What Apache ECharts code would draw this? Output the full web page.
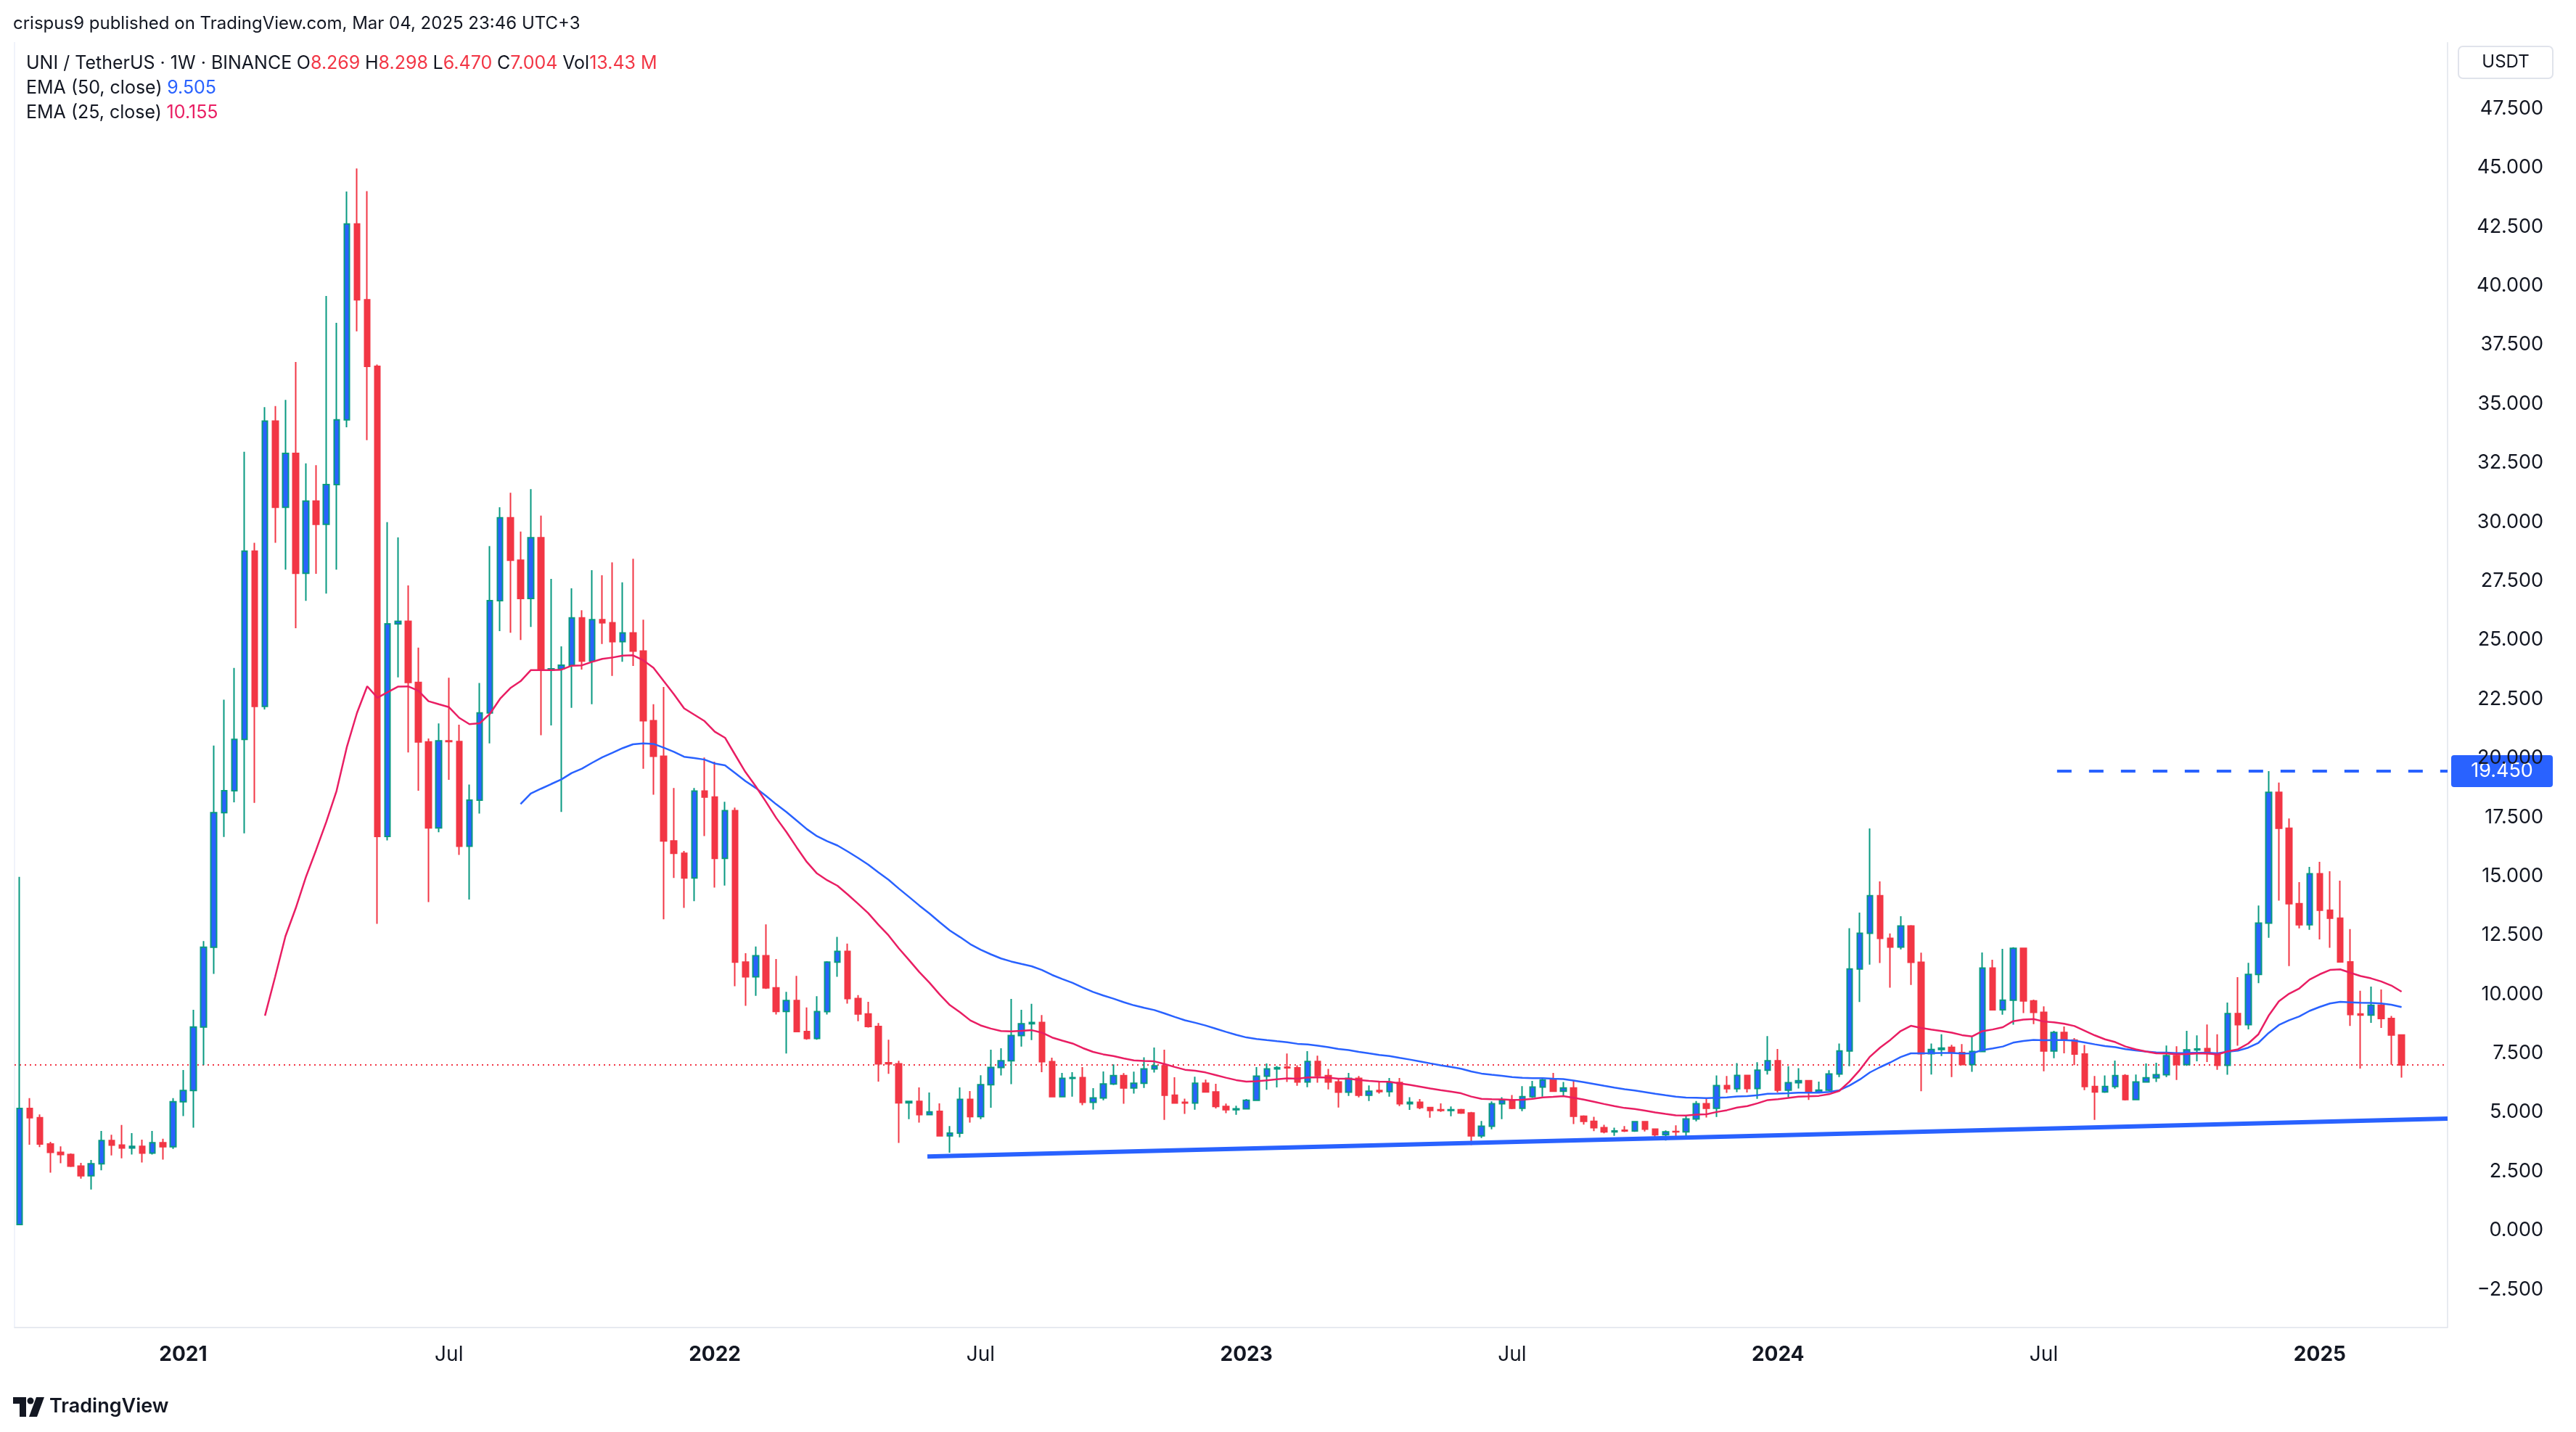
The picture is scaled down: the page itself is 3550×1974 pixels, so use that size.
<!DOCTYPE html>
<html>
<head>
<meta charset="utf-8">
<title>UNI / TetherUS 1W</title>
<script src="https://cdn.jsdelivr.net/npm/echarts@6/dist/echarts.min.js"></script>
<style>
  html, body { margin: 0; padding: 0; background: #fff; }
  #chart { width: 3550px; height: 1974px; }
</style>
</head>
<body>
<div id="chart"></div>
<script>
// weekly candles, first bar = week of 2020-09-14
const startDate = '2020-09-14';
const futureWeeks = 4;

const open = [
  0.25,5.16,4.77,3.66,3.30,3.21,2.72,2.31,2.82,3.80,
  3.61,3.49,3.56,3.27,3.71,3.54,5.45,5.92,8.61,11.99,
  17.69,18.62,20.79,28.76,22.19,34.27,30.62,32.90,27.83,30.88,
  29.90,31.58,34.32,42.62,39.41,36.59,16.68,25.68,25.79,23.20,
  20.68,17.04,20.73,20.70,16.27,18.22,21.91,26.67,30.18,28.38,
  26.76,29.33,23.73,23.78,23.93,25.94,24.11,25.86,25.73,24.93,
  25.30,24.53,21.58,20.08,16.49,15.97,14.92,18.60,18.35,15.75,
  17.77,11.36,10.74,11.63,10.27,9.27,9.73,8.42,8.13,9.26,
  11.36,11.81,9.82,9.16,8.63,7.10,7.05,5.40,5.46,4.90,
  5.04,4.00,4.12,5.55,4.82,6.17,6.90,7.18,8.25,8.75,
  8.80,7.14,5.66,6.44,6.47,5.42,5.61,6.20,6.55,6.03,
  6.23,6.84,6.97,5.72,5.42,5.39,6.23,5.86,5.25,5.11,
  5.15,5.51,6.53,6.84,6.91,6.88,6.28,7.15,6.55,6.28,
  5.85,6.44,5.72,5.92,5.88,6.26,5.36,5.42,5.20,5.11,
  5.08,5.11,4.97,4.00,4.41,5.36,5.51,5.17,5.66,6.07,
  6.37,5.89,6.03,4.83,4.62,4.35,4.17,4.24,4.21,4.60,
  4.29,4.05,4.19,4.17,4.72,5.36,5.17,6.13,6.00,6.56,
  6.01,6.78,7.18,5.94,6.25,6.34,5.84,5.94,6.62,7.60,
  11.07,12.58,14.17,12.37,12.00,12.89,11.35,7.48,7.66,7.75,
  7.53,7.02,7.57,11.11,9.34,9.75,11.94,9.72,9.23,7.60,
  8.38,8.06,7.47,6.09,5.86,6.09,6.55,5.54,6.28,6.46,
  6.59,7.40,7.02,7.64,7.70,7.49,6.99,9.18,8.71,10.84,
  13.01,18.55,17.03,13.83,12.94,15.10,13.56,13.22,11.37,9.16,
  9.12,9.53,8.97,8.269
];
const close = [
  5.16,4.77,3.66,3.30,3.21,2.72,2.31,2.82,3.80,3.61,
  3.49,3.56,3.27,3.71,3.54,5.45,5.92,8.61,11.99,17.69,
  18.62,20.79,28.76,22.19,34.27,30.62,32.90,27.83,30.88,29.90,
  31.58,34.32,42.62,39.41,36.59,16.68,25.68,25.79,23.20,20.68,
  17.04,20.73,20.70,16.27,18.22,21.91,26.67,30.18,28.38,26.76,
  29.33,23.73,23.78,23.93,25.94,24.11,25.86,25.73,24.93,25.30,
  24.53,21.58,20.08,16.49,15.97,14.92,18.60,18.35,15.75,17.77,
  11.36,10.74,11.63,10.27,9.27,9.73,8.42,8.13,9.26,11.36,
  11.81,9.82,9.16,8.63,7.05,7.05,5.40,5.46,4.90,5.02,
  4.00,4.12,5.55,4.82,6.17,6.90,7.18,8.25,8.75,8.80,
  7.14,5.66,6.44,6.47,5.42,5.61,6.20,6.55,6.03,6.23,
  6.84,6.97,5.72,5.39,5.39,6.23,5.86,5.25,5.11,5.15,
  5.51,6.53,6.84,6.89,6.88,6.28,7.15,6.55,6.28,5.85,
  6.44,5.72,5.89,5.88,6.26,5.36,5.42,5.20,5.08,5.08,
  5.11,4.97,4.00,4.41,5.36,5.51,5.17,5.66,6.07,6.37,
  5.89,6.03,4.83,4.62,4.35,4.17,4.21,4.21,4.60,4.29,
  4.05,4.17,4.17,4.72,5.36,5.17,6.13,6.00,6.56,6.01,
  6.78,7.18,5.94,6.25,6.34,5.84,5.94,6.62,7.60,11.07,
  12.58,14.17,12.37,12.00,12.89,11.35,7.48,7.66,7.72,7.53,
  7.02,7.57,11.11,9.34,9.75,11.94,9.72,9.23,7.60,8.38,
  8.06,7.47,6.09,5.86,6.09,6.55,5.54,6.28,6.46,6.59,
  7.40,7.02,7.64,7.68,7.49,6.99,9.18,8.71,10.84,13.01,
  18.55,17.03,13.83,12.94,15.10,13.56,13.22,11.37,9.14,9.12,
  9.53,8.97,8.27,7.004
];
const high = [
  14.97,5.60,4.91,3.75,3.56,3.26,2.86,2.98,4.21,4.05,
  4.46,4.12,3.84,4.21,3.88,5.60,6.79,9.34,12.25,20.53,
  22.47,23.82,32.97,29.12,34.86,34.91,35.17,36.77,32.48,32.40,
  39.57,38.43,43.99,44.97,44.01,36.67,29.99,29.35,27.31,24.68,
  20.83,21.47,23.40,21.41,18.88,23.18,28.98,30.62,31.24,29.59,
  31.39,30.27,27.59,24.73,27.19,26.26,27.96,27.74,28.29,27.44,
  28.44,25.86,22.28,23.01,18.73,16.07,18.73,20.02,19.85,18.15,
  17.90,11.74,12.02,12.96,11.49,10.10,10.78,9.44,9.92,11.40,
  12.43,12.14,9.96,9.68,8.78,8.07,7.18,5.49,6.05,5.84,
  5.38,4.42,6.05,5.90,6.57,7.65,7.71,9.80,9.34,9.59,
  9.12,7.31,6.67,6.70,6.91,6.02,6.73,7.03,6.66,6.72,
  7.33,7.74,7.65,6.48,5.58,6.51,6.38,6.21,5.37,5.28,
  5.56,6.91,7.07,6.96,7.49,6.99,7.59,7.40,6.84,6.45,
  6.67,6.54,6.14,6.33,6.45,6.45,5.64,5.56,5.22,5.38,
  5.25,5.15,5.02,4.63,5.46,5.64,5.73,6.11,6.33,6.43,
  6.67,6.28,6.33,4.87,4.81,4.47,4.35,4.42,4.62,4.62,
  4.32,4.23,4.45,4.86,5.48,5.60,6.56,6.54,7.08,6.58,
  7.12,8.23,7.68,6.95,6.87,6.37,6.30,6.78,7.91,12.80,
  13.46,17.02,14.78,12.57,13.30,12.93,11.76,7.91,8.30,7.86,
  7.89,8.17,11.77,11.46,11.92,11.99,11.96,9.77,9.49,8.45,
  8.63,8.14,7.85,6.54,6.56,7.19,6.61,6.60,7.07,7.10,
  7.83,7.80,8.45,8.26,8.72,8.30,9.65,10.72,11.33,13.76,
  19.45,18.96,17.44,14.75,15.39,15.61,15.21,14.81,12.76,10.15,
  10.32,10.20,9.08,8.298
];
const low = [
  0.25,3.63,3.53,2.44,2.84,2.68,2.19,1.73,2.54,3.17,
  3.05,3.21,2.87,3.21,3.00,3.45,4.84,4.35,7.00,10.86,
  16.66,18.13,16.81,18.10,22.06,29.12,27.98,25.50,26.66,27.80,
  26.97,27.98,34.01,38.07,33.46,12.98,16.51,23.42,20.24,18.62,
  13.90,16.86,19.08,15.90,14.01,17.65,20.62,25.38,25.31,25.00,
  25.55,20.97,21.38,17.72,22.13,23.75,22.28,24.83,23.48,24.08,
  23.90,19.55,18.45,13.17,14.92,13.66,13.94,16.70,14.52,14.60,
  10.34,9.51,9.93,10.22,9.14,7.49,8.40,8.07,8.07,9.14,
  10.74,9.60,8.86,8.59,6.30,6.63,3.70,4.71,4.56,4.87,
  3.98,3.29,3.94,4.56,4.71,5.19,6.56,6.19,7.78,8.06,
  6.70,5.64,5.63,5.66,5.30,5.12,5.51,6.15,5.36,5.79,
  6.03,6.68,4.68,5.36,4.93,5.11,5.85,5.16,4.96,4.89,
  5.13,5.51,5.95,6.05,6.28,6.12,6.06,6.25,5.97,5.20,
  5.69,5.63,5.48,5.79,5.66,5.26,5.10,5.13,4.77,5.02,
  4.83,4.93,3.61,3.91,4.28,4.71,5.13,5.05,5.61,5.66,
  5.87,5.71,4.50,4.48,4.20,4.11,4.00,4.16,4.17,4.19,
  3.96,3.80,3.90,3.96,4.62,4.78,4.80,5.82,5.85,5.84,
  5.57,6.60,5.84,5.63,6.01,5.52,5.82,5.90,6.49,6.95,
  9.67,11.25,11.32,10.28,11.90,10.39,5.89,6.60,7.38,6.49,
  7.00,6.71,7.55,9.31,9.13,8.71,9.20,8.73,6.74,7.29,
  7.50,7.00,5.94,4.68,5.82,6.00,5.50,5.52,6.26,6.28,
  6.49,6.37,6.97,7.16,7.13,6.80,6.59,7.82,8.51,10.47,
  12.39,13.96,11.19,12.79,12.73,12.32,11.97,11.35,8.66,6.85,
  8.79,8.57,7.01,6.470
];

// time scale labels
const tickDates  = ['2021-01-04','2021-07-05','2022-01-03','2022-07-04','2023-01-02','2023-07-03','2024-01-01','2024-07-01','2025-01-06'];
const tickLabels = ['2021','Jul','2022','Jul','2023','Jul','2024','Jul','2025'];
const priceTicks = [-2.5,0,2.5,5,7.5,10,12.5,15,17.5,20,22.5,25,27.5,30,32.5,35,37.5,40,42.5,45,47.5];

// drawings (bar index, price)
const supportLine = [[88.8, 3.13], [237.5, 4.73]];
const resistance = { from: 199.3, price: 19.45 };
const lastPrice = 7.004;
const emaLegend = { ema50: '9.505', ema25: '10.155' };

const UP_FILL = '#2962FF', UP_EDGE = '#089981', DOWN = '#F23645';
const EMA25_COLOR = '#E91E63', EMA50_COLOR = '#2962FF';
const TEXT = '#131722';
const FONT = 'Inter, "Noto Sans", sans-serif';

// category dates
const dates = [];
const d0 = new Date(startDate + 'T00:00:00Z');
for (let i = 0; i < open.length + futureWeeks; i++) {
  const d = new Date(d0.getTime() + i * 7 * 86400000);
  dates.push(d.toISOString().slice(0, 10));
}
const tickMap = {};
tickDates.forEach((d, i) => { tickMap[d] = tickLabels[i]; });

const candles = open.map((o, i) => [o, close[i], low[i], high[i]]);

function ema(src, n) {
  const out = [];
  const k = 2 / (n + 1);
  let prev = null;
  for (let i = 0; i < src.length; i++) {
    if (i < n - 1) { out.push('-'); continue; }
    if (prev === null) {
      let s = 0;
      for (let j = i - n + 1; j <= i; j++) s += src[j];
      prev = s / n;
    } else {
      prev = k * src[i] + (1 - k) * prev;
    }
    out.push(+prev.toFixed(4));
  }
  return out;
}

const nCat = dates.length;
const chart = echarts.init(document.getElementById('chart'));

const option = {
  animation: false,
  backgroundColor: '#ffffff',
  textStyle: { fontFamily: FONT },
  grid: { left: 20, right: 177, top: 58.7, bottom: 144.5 },
  xAxis: [
    {
      type: 'category',
      data: dates,
      boundaryGap: true,
      axisLine: { show: true, onZero: false, lineStyle: { color: '#E0E3EB', width: 1.5 } },
      axisTick: { show: false },
      splitLine: { show: false },
      axisLabel: {
        margin: 24,
        fontSize: 28,
        color: TEXT,
        fontFamily: FONT,
        interval: (idx, val) => tickMap[val] !== undefined,
        formatter: (val) => {
          const t = tickMap[val];
          if (!t) return '';
          return /^\d{4}$/.test(t) ? '{y|' + t + '}' : '{m|' + t + '}';
        },
        rich: {
          y: { fontSize: 28, fontWeight: 700, color: TEXT, fontFamily: FONT },
          m: { fontSize: 28, fontWeight: 400, color: TEXT, fontFamily: FONT }
        }
      }
    },
    {
      type: 'value',
      min: -0.5,
      max: nCat - 0.5,
      show: false
    }
  ],
  yAxis: {
    type: 'value',
    position: 'right',
    min: -4.1,
    max: 50.3,
    scale: true,
    axisLine: { show: true, onZero: false, lineStyle: { color: '#E0E3EB', width: 1.5 } },
    axisTick: { show: false },
    splitLine: { show: false },
    axisLabel: {
      customValues: priceTicks,
      align: 'right',
      margin: 132,
      fontSize: 27,
      color: TEXT,
      fontFamily: FONT,
      formatter: (v) => (v < 0 ? '\u2212' : '') + Math.abs(v).toFixed(3)
    }
  },
  series: [
    {
      name: 'UNI',
      type: 'candlestick',
      xAxisIndex: 0,
      data: candles,
      barWidth: 8,
      itemStyle: {
        color: UP_FILL,
        color0: DOWN,
        borderColor: UP_EDGE,
        borderColor0: DOWN,
        borderWidth: 2
      },
      z: 2
    },
    {
      name: 'EMA 50',
      type: 'line',
      xAxisIndex: 0,
      data: ema(close, 50),
      symbol: 'none',
      lineStyle: { color: EMA50_COLOR, width: 2.5 },
      z: 3
    },
    {
      name: 'EMA 25',
      type: 'line',
      xAxisIndex: 0,
      data: ema(close, 25),
      symbol: 'none',
      lineStyle: { color: EMA25_COLOR, width: 2.5 },
      z: 3
    },
    {
      name: 'last price',
      type: 'line',
      xAxisIndex: 1,
      data: [[-0.5, lastPrice], [nCat - 0.5, lastPrice]],
      symbol: 'none',
      lineStyle: { color: DOWN, width: 2, type: [2, 5] },
      z: 1
    },
    {
      name: 'support',
      type: 'line',
      xAxisIndex: 1,
      data: supportLine,
      symbol: 'none',
      lineStyle: { color: '#2962FF', width: 6 },
      z: 4
    },
    {
      name: 'resistance',
      type: 'line',
      xAxisIndex: 1,
      data: [[resistance.from, resistance.price], [nCat - 0.5, resistance.price]],
      symbol: 'none',
      lineStyle: { color: '#2962FF', width: 4, type: [20, 24] },
      z: 4
    }
  ]
};
chart.setOption(option);

// header, legend, price tags, logo
const gridRight = 3550 - 177;
const yRes = chart.convertToPixel({ yAxisIndex: 0 }, resistance.price);

chart.setOption({
  graphic: [
    {
      type: 'text', left: 18, top: 21,
      style: { text: 'crispus9 published on TradingView.com, Mar 04, 2025 23:46 UTC+3', fontSize: 24, fill: TEXT, fontFamily: FONT }
    },
    {
      type: 'text', left: 36, top: 75,
      style: {
        text: '{n|UNI / TetherUS \u00b7 1W \u00b7 BINANCE}  {n|O}{r|8.269}  {n|H}{r|8.298}  {n|L}{r|6.470}  {n|C}{r|7.004}  {n|Vol}{r|13.43 M}',
        rich: {
          n: { fontSize: 25, fill: TEXT, fontFamily: FONT },
          r: { fontSize: 25, fill: DOWN, fontFamily: FONT }
        }
      }
    },
    {
      type: 'text', left: 36, top: 109,
      style: {
        text: '{n|EMA (50, close)}  {b|' + emaLegend.ema50 + '}',
        rich: {
          n: { fontSize: 25, fill: TEXT, fontFamily: FONT },
          b: { fontSize: 25, fill: EMA50_COLOR, fontFamily: FONT }
        }
      }
    },
    {
      type: 'text', left: 36, top: 143,
      style: {
        text: '{n|EMA (25, close)}  {b|' + emaLegend.ema25 + '}',
        rich: {
          n: { fontSize: 25, fill: TEXT, fontFamily: FONT },
          b: { fontSize: 25, fill: EMA25_COLOR, fontFamily: FONT }
        }
      }
    },
    {
      type: 'line', shape: { x1: 20, y1: 58, x2: 20, y2: 1830 },
      style: { stroke: '#F0F3FA', lineWidth: 2 }, silent: true
    },
    {
      type: 'rect', shape: { x: 3388, y: 64, width: 130, height: 44, r: 6 },
      style: { fill: '#ffffff', stroke: '#E0E3EB', lineWidth: 2 }
    },
    {
      type: 'text', x: 3453, y: 86,
      style: { text: 'USDT', fontSize: 24, fill: TEXT, fontFamily: FONT, align: 'center', verticalAlign: 'middle' }
    },
    {
      type: 'rect', shape: { x: gridRight + 5, y: yRes - 22, width: 140, height: 44, r: 4 },
      style: { fill: '#2962FF' }
    },
    {
      type: 'text', x: gridRight + 75, y: yRes,
      style: { text: '19.450', fontSize: 27, fill: '#ffffff', fontFamily: FONT, align: 'center', verticalAlign: 'middle' }
    },
    {
      type: 'group', left: 18, top: 1926,
      children: [
        { type: 'polygon', shape: { points: [[0, 0], [18, 0], [18, 27], [9, 27], [9, 9], [0, 9]] }, style: { fill: TEXT } },
        { type: 'circle', shape: { cx: 24, cy: 5, r: 4.5 }, style: { fill: TEXT } },
        { type: 'polygon', shape: { points: [[32, 0], [43, 0], [33, 27], [22, 27]] }, style: { fill: TEXT } }
      ]
    },
    {
      type: 'text', left: 68, top: 1925,
      style: { text: 'TradingView', fontSize: 27, fontWeight: 600, fill: TEXT, fontFamily: FONT }
    }
  ]
});

window.addEventListener('resize', () => chart.resize());
</script>
</body>
</html>
